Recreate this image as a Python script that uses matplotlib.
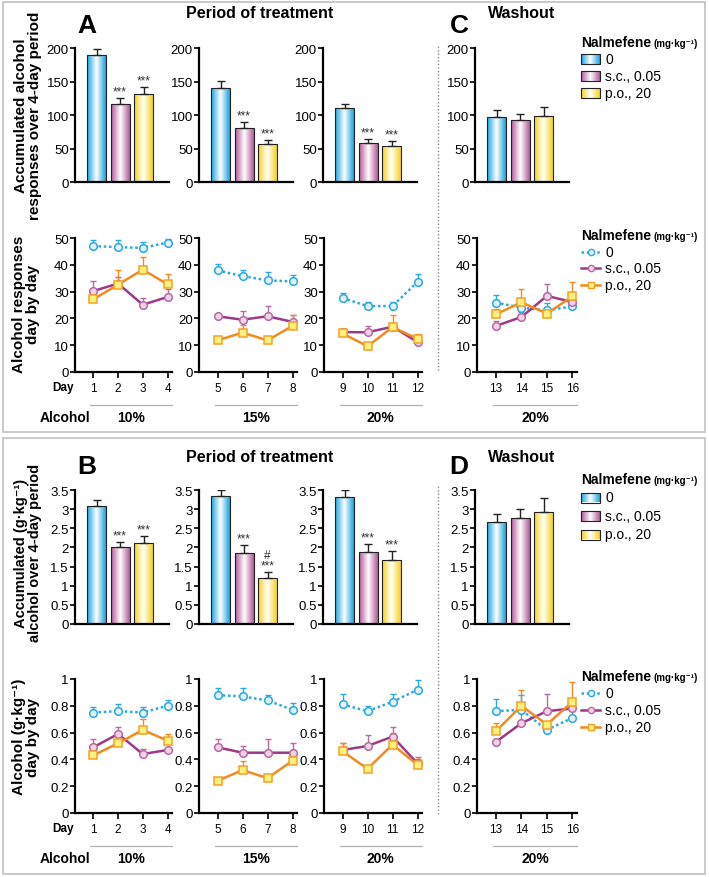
import numpy as np
import matplotlib.pyplot as plt
from matplotlib.colors import LinearSegmentedColormap
from matplotlib.patches import Rectangle

plt.rcParams['font.family'] = ['Liberation Sans', 'DejaVu Sans']

# ---- data ----
groups = ['0', 's.c., 0.05', 'p.o., 20']
days = [[1, 2, 3, 4], [5, 6, 7, 8], [9, 10, 11, 12], [13, 14, 15, 16]]
conc = ['10%', '15%', '20%', '20%']

resp_bar = [[189, 117, 131], [141, 81, 56], [110, 58, 53.5], [97, 92.5, 99]]
resp_bar_err = [[10, 8, 11], [10, 8, 7], [6, 6, 8], [11, 9, 13]]
resp_stars = [['', '***', '***'], ['', '***', '***'], ['', '***', '***'], ['', '', '']]

g_bar = [[3.09, 2.01, 2.11], [3.35, 1.86, 1.21], [3.32, 1.89, 1.67], [2.66, 2.76, 2.92]]
g_bar_err = [[0.15, 0.12, 0.19], [0.15, 0.20, 0.14], [0.18, 0.20, 0.23], [0.21, 0.24, 0.37]]
g_stars = [['', '***', '***'], ['', '***', '#\n***'], ['', '***', '***'], ['', '', '']]

resp_veh = [47.0, 46.6, 46.3, 48.3, 37.9, 35.8, 34.2, 33.8, 27.6, 24.6, 24.6, 33.6, 25.9, 24.0, 23.0, 24.5]
resp_veh_err = [2.4, 2.5, 2.2, 1.5, 2.3, 2.4, 3.1, 2.5, 1.9, 1.5, 1.5, 3.1, 2.7, 2.5, 2.7, 2.5]
resp_sc = [30.2, 33.0, 25.1, 28.0, 20.8, 19.5, 20.8, 18.7, 14.9, 14.8, 16.9, 11.2, 17.2, 20.5, 28.4, 26.1]
resp_sc_err = [3.8, 2.4, 2.6, 2.8, 0.7, 3.3, 3.8, 2.4, 1.3, 2.5, 1.5, 0.8, 1.8, 1.9, 4.6, 1.5]
resp_po = [27.1, 32.6, 38.2, 32.7, 11.8, 14.7, 11.8, 17.2, 14.4, 9.6, 16.7, 12.4, 21.5, 26.0, 21.8, 28.2]
resp_po_err = [1.3, 5.3, 4.7, 3.7, 0.6, 3.0, 0.6, 3.9, 1.5, 0.8, 4.4, 1.8, 1.9, 5.0, 0.8, 5.4]

g_veh = [0.75, 0.76, 0.75, 0.80, 0.88, 0.87, 0.84, 0.77, 0.81, 0.76, 0.83, 0.92, 0.76, 0.77, 0.62, 0.71]
g_veh_err = [0.04, 0.05, 0.04, 0.04, 0.05, 0.06, 0.04, 0.05, 0.08, 0.04, 0.06, 0.07, 0.09, 0.11, 0.06, 0.05]
g_sc = [0.49, 0.59, 0.44, 0.47, 0.49, 0.45, 0.45, 0.45, 0.47, 0.50, 0.57, 0.37, 0.53, 0.67, 0.76, 0.78]
g_sc_err = [0.06, 0.05, 0.04, 0.01, 0.06, 0.05, 0.10, 0.07, 0.05, 0.08, 0.07, 0.05, 0.01, 0.09, 0.13, 0.02]
g_po = [0.43, 0.52, 0.62, 0.54, 0.24, 0.32, 0.26, 0.39, 0.46, 0.33, 0.51, 0.36, 0.61, 0.80, 0.66, 0.83]
g_po_err = [0.01, 0.01, 0.08, 0.05, 0.01, 0.07, 0.01, 0.08, 0.06, 0.01, 0.09, 0.04, 0.06, 0.12, 0.02, 0.15]

# ---- styles ----
bar_col = ['#1aa3df', '#b3589a', '#f4d21c']
line_sty = [dict(color='#2aa9e0', ls=(0, (1, 1.1)), marker='o', mfc='#e4f3fb', mec='#2aa9e0'),
            dict(color='#9b3a8b', ls='-', marker='o', mfc='#eed3e4', mec='#b86aa3'),
            dict(color='#f08a22', ls='-', marker='s', mfc='#fff27a', mec='#f5a02a')]
err_col = ['#2aa9e0', '#b86aa3', '#f08a22']

W, H = 709, 878
fig = plt.figure(figsize=(W / 100, H / 100), dpi=100)


def px_ax(x0, x1, y0, y1):
    return fig.add_axes([x0 / W, 1 - y1 / H, (x1 - x0) / W, (y1 - y0) / H])


def ftext(x, y, s, **kw):
    fig.text(x / W, 1 - y / H, s, **kw)


grad = np.linspace(0, 1, 64)[None, :]
cmaps = [LinearSegmentedColormap.from_list('c%d' % i, [c, '#ffffff', c]) for i, c in enumerate(bar_col)]


def style(ax):
    for s in ['top', 'right']:
        ax.spines[s].set_visible(False)
    ax.spines['left'].set_linewidth(1.6)
    ax.spines['bottom'].set_linewidth(1.6)
    ax.tick_params(axis='y', length=3.5, width=1.2, labelsize=9.5, pad=1)


def bar_panel(ax, vals, errs, stars, ymax, step, fmt):
    x = np.arange(3)
    bars = ax.bar(x, vals, width=0.8, color='none', edgecolor='#222222', lw=0.8, zorder=3)
    for b, cm in zip(bars, cmaps):
        im = ax.imshow(grad, cmap=cm, aspect='auto', zorder=2, interpolation='bilinear',
                       extent=[b.get_x(), b.get_x() + b.get_width(), 0, b.get_height()])
        im.set_clip_path(b)
    ax.errorbar(x, vals, yerr=[np.zeros(3), errs], fmt='none', ecolor='#222222',
                elinewidth=1, capsize=3, capthick=1, zorder=4)
    for xi, v, e, s in zip(x, vals, errs, stars):
        if s:
            ax.annotate(s, (xi, v + e), xytext=(0, 0.5), textcoords='offset points', ha='center',
                        va='bottom', fontsize=8.5, color='#333333', linespacing=0.85)
    ax.set_xlim(-0.92, 3.08)
    ax.set_ylim(0, ymax)
    ax.set_yticks(np.arange(0, ymax + step / 2, step))
    ax.set_yticklabels([fmt(t) for t in np.arange(0, ymax + step / 2, step)])
    style(ax)
    ax.tick_params(axis='x', bottom=False, labelbottom=False)


def line_panel(ax, d, series, errs, ymax, step, fmt):
    for k, (v, e) in enumerate(zip(series, errs)):
        ax.errorbar(d, v, yerr=[np.zeros(len(d)), e], fmt='none', ecolor=err_col[k],
                    elinewidth=1, capsize=2.5, capthick=1, zorder=2 + k)
    for k, v in enumerate(series):
        ax.plot(d, v, lw=1.8, ms=5.5, mew=1.1, zorder=5 + k, clip_on=False, **line_sty[k])
    ax.set_xlim(d[0] - 0.74, d[0] + 3.18)
    ax.set_ylim(0, ymax)
    ax.set_yticks(np.arange(0, ymax + step / 2, step))
    ax.set_yticklabels([fmt(t) for t in np.arange(0, ymax + step / 2, step)])
    ax.set_xticks(d)
    style(ax)
    ax.tick_params(axis='x', length=4, width=1.2, labelsize=8.5, pad=3)


bar_x = [(75, 169), (199, 293), (323, 417), (475, 569)]
line_x = [(75, 172), (199, 297), (324, 422), (477, 577)]
fmt_int = lambda t: '%d' % t
fmt_g = lambda t: '%g' % round(t, 2)

rows = [
    ((49, 183), (239, 373), resp_bar, resp_bar_err, resp_stars, 200, 50,
     [resp_veh, resp_sc, resp_po], [resp_veh_err, resp_sc_err, resp_po_err], 50, 10, fmt_int, fmt_int),
    ((491, 625), (680, 814), g_bar, g_bar_err, g_stars, 3.5, 0.5,
     [g_veh, g_sc, g_po], [g_veh_err, g_sc_err, g_po_err], 1.0, 0.2, fmt_g, fmt_g),
]

for (by, ly, bv, be, bs, bmax, bstep, lv, le, lmax, lstep, bf, lf) in rows:
    for c in range(4):
        ax = px_ax(bar_x[c][0], bar_x[c][1], by[0], by[1])
        bar_panel(ax, bv[c], be[c], bs[c], bmax, bstep, bf)
        ax2 = px_ax(line_x[c][0], line_x[c][1], ly[0], ly[1])
        sl = slice(4 * c, 4 * c + 4)
        line_panel(ax2, days[c], [s[sl] for s in lv], [e[sl] for e in le], lmax, lstep, lf)
        # grey underline and concentration label
        x0 = days[c][0] - 0.12
        x1 = ax2.get_xlim()[1]
        ax2.plot([x0, x1], [-0.246, -0.246], color='#b0b0b0', lw=0.9,
                 transform=ax2.get_xaxis_transform(), clip_on=False)
        ax2.text((x0 + x1) / 2, -0.335, conc[c], transform=ax2.get_xaxis_transform(),
                 ha='center', va='center', fontsize=10, fontweight='bold')
    ftext(74, ly[1] + 15, 'Day', ha='right', va='center', fontsize=8.5, fontweight='bold')
    ftext(65, ly[1] + 45, 'Alcohol', ha='center', va='center', fontsize=10, fontweight='bold')

# frames and separators
for (y0, y1) in [(3, 433), (439, 875)]:
    fig.patches.append(Rectangle((3 / W, 1 - y1 / H), 702 / W, (y1 - y0) / H, transform=fig.transFigure,
                                 fill=False, ec='#c0c0c0', lw=1.2))
for (y0, y1) in [(47, 372), (487, 815)]:
    fig.add_artist(plt.Line2D([438 / W, 438 / W], [1 - y0 / H, 1 - y1 / H], transform=fig.transFigure,
                              color='#8a8a8a', lw=1, ls=(0, (1, 1.5))))

# titles
for (yl, yt, lab1, lab2) in [(26, 14, 'A', 'C'), (467, 458, 'B', 'D')]:
    ftext(87, yl, lab1, ha='center', va='center', fontsize=19, fontweight='bold')
    ftext(260, yt, 'Period of treatment', ha='center', va='center', fontsize=11.5, fontweight='bold')
    ftext(459, yl, lab2, ha='center', va='center', fontsize=19, fontweight='bold')
    ftext(488, yt, 'Washout', ha='left', va='center', fontsize=11.5, fontweight='bold')

# y labels
ftext(28, 116, 'Accumulated alcohol\nresponses over 4-day period', rotation=90, ha='center', va='center',
      fontsize=11, fontweight='bold', linespacing=0.95)
ftext(26, 304, 'Alcohol responses\nday by day', rotation=90, ha='center', va='center',
      fontsize=11, fontweight='bold', linespacing=0.95)
ftext(28, 553, 'Accumulated (g·kg⁻¹)\nalcohol over 4-day period', rotation=90, ha='center', va='center',
      fontsize=10.5, fontweight='bold', linespacing=0.95)
ftext(26, 737, 'Alcohol (g·kg⁻¹)\nday by day', rotation=90, ha='center', va='center',
      fontsize=11, fontweight='bold', linespacing=0.95)

# legends drawn in an overlay axes using pixel units
ov = fig.add_axes([0, 0, 1, 1], zorder=10)
ov.set_xlim(0, W)
ov.set_ylim(H, 0)
ov.axis('off')


def leg_title(y):
    ov.text(581, y, 'Nalmefene', ha='left', va='center', fontsize=10, fontweight='bold')
    ov.text(654, y + 1, '(mg·kg⁻¹)', ha='left', va='center', fontsize=7, fontweight='bold')


def bar_legend(y0, dy):
    leg_title(y0)
    for k, g in enumerate(groups):
        y = y0 + dy * (k + 1)
        r = Rectangle((581, y - 5), 19, 10, fc='none', ec='#222222', lw=0.8, zorder=3)
        ov.add_patch(r)
        im = ov.imshow(grad, cmap=cmaps[k], aspect='auto', zorder=2, extent=[581, 600, y + 5, y - 5])
        im.set_clip_path(r)
        ov.text(605, y, g, ha='left', va='center', fontsize=10)


def line_legend(y0, dy):
    leg_title(y0)
    for k, g in enumerate(groups):
        y = y0 + dy * (k + 1)
        st = dict(line_sty[k])
        mk = st.pop('marker')
        ov.plot([581, 600], [y, y], lw=1.8, color=st['color'], ls=st['ls'])
        ov.plot([590.5], [y], marker=mk, ms=4.5, mew=1.0, mfc=st['mfc'], mec=st['mec'], ls='none')
        ov.text(605, y, g, ha='left', va='center', fontsize=10)


bar_legend(43, 17)
line_legend(236, 16.7)
bar_legend(480, 18.5)
line_legend(677, 17)
ov.set_xlim(0, W)
ov.set_ylim(H, 0)

fig.savefig('out.png', dpi=100)
